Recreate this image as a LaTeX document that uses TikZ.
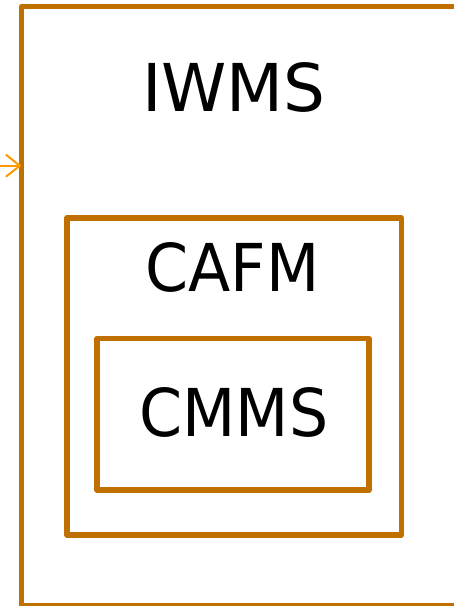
\documentclass[tikz,border=0pt]{standalone}
\usepackage{fontspec}
\setmainfont{DejaVu Sans}
\usetikzlibrary{arrows.meta}
\definecolor{boxbrown}{RGB}{192,112,0}
\definecolor{arrorange}{RGB}{255,153,0}
\tikzset{
  frame/.style={draw=boxbrown, line width=5.3pt, line join=round, inner sep=0pt, outer sep=0pt},
  bigtext/.style={inner sep=0pt, font=\fontsize{66}{70}\selectfont},
  narrow/.style={xscale=0.935, transform shape},
  inarrow/.style={draw=arrorange, line width=2pt, -{Straight Barb[length=14pt,width=22pt]}}
}
\begin{document}
\begin{tikzpicture}[x=1pt,y=-1pt]
\useasboundingbox (0,0) rectangle (454,606);
\node[frame, minimum width=438.5pt, minimum height=599.3pt] (iwms) at (240.75,306.35) {};
\node[frame, minimum width=334.5pt, minimum height=317pt] (cafm) at (234.25,376.5) {};
\node[frame, minimum width=272pt, minimum height=151.5pt] (cmms) at (233,414.25) {};
\node[bigtext] (tiwms) at (234,87.5) {IWMS};
\node[bigtext, narrow] (tcafm) at (232.5,267.5) {CAFM};
\node[bigtext, narrow] (tcmms) at (234,412.5) {CMMS};
\coordinate (src) at (-6,165.7);
\draw[inarrow] (src) -- (src -| iwms.west);
\end{tikzpicture}
\end{document}
